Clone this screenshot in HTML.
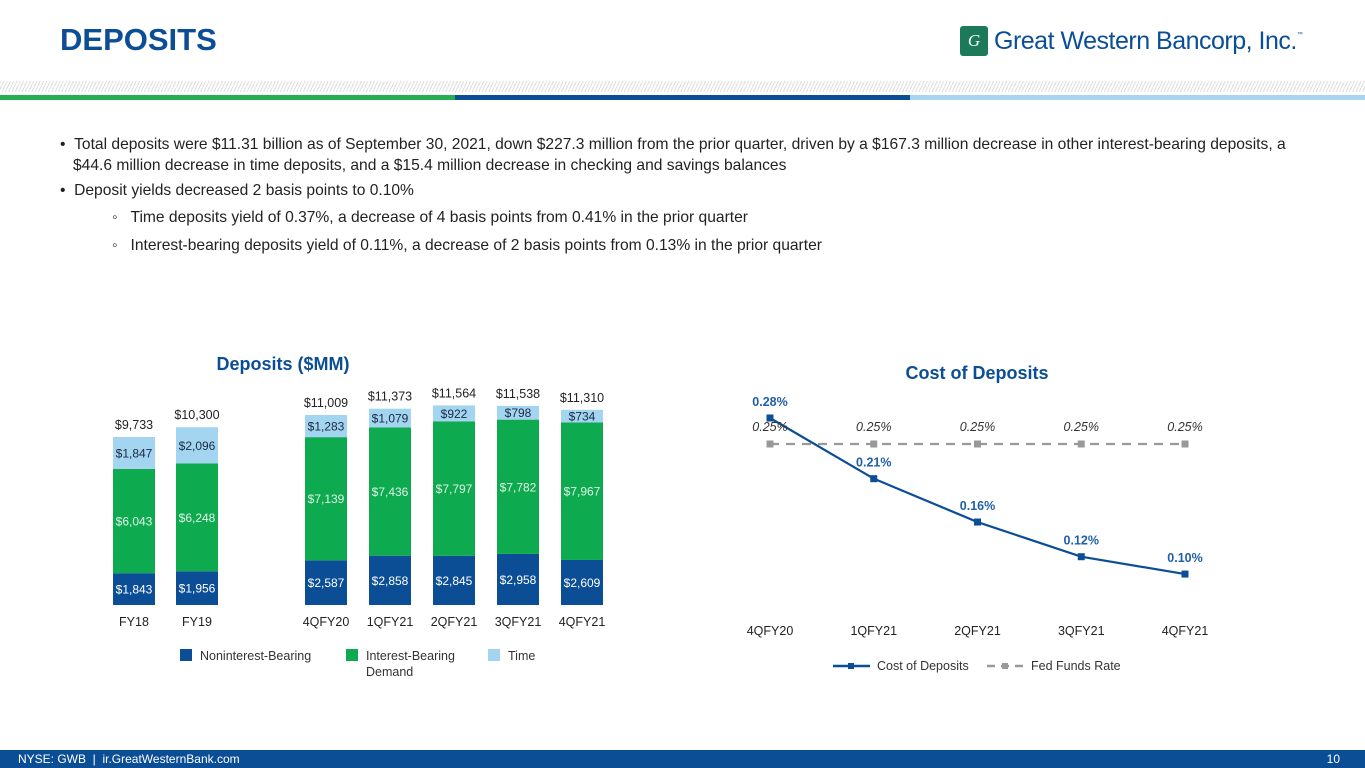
<!DOCTYPE html>
<html><head><meta charset="utf-8">
<style>
body{margin:0;width:1365px;height:768px;position:relative;background:#fff;font-family:"Liberation Sans",sans-serif;overflow:hidden}
.abs{position:absolute}
.title{left:60px;top:22px;font-size:31px;font-weight:bold;color:#0b4e96;letter-spacing:0px}
.bul{font-size:15.6px;color:#222;line-height:21px;white-space:nowrap}
</style></head><body>
<div class="abs title">DEPOSITS</div>
<div class="abs" style="left:960px;top:26px;display:flex;align-items:center">
  <div style="width:28px;height:30px;background:#1c7a5a;border-radius:3px;color:#fff;font-style:italic;font-size:17px;text-align:center;line-height:30px;font-family:'Liberation Serif',serif">G</div>
  <span style="margin-left:6px;font-size:25px;color:#0b4e96;font-family:'Liberation Sans Narrow','Liberation Sans',sans-serif;letter-spacing:-0.5px">Great Western Bancorp, Inc.</span><span style="font-size:6px;color:#0b4e96;margin-top:-12px">™</span>
</div>
<div class="abs" style="left:0;top:81px;width:1365px;height:11px;background:repeating-linear-gradient(115deg,#ddd 0 1px,#fff 1px 3px)"></div>
<div class="abs" style="left:0;top:95px;width:1365px;height:5px;background:linear-gradient(90deg,#27ae53 0 455px,#0b4e96 455px 910px,#a6d4f2 910px)"></div>

<div class="abs bul" style="left:60px;top:134px">• &nbsp;Total deposits were $11.31 billion as of September 30, 2021, down $227.3 million from the prior quarter, driven by a $167.3 million decrease in other interest-bearing deposits, a<br>&nbsp;&nbsp;&nbsp;$44.6 million decrease in time deposits, and a $15.4 million decrease in checking and savings balances</div>
<div class="abs bul" style="left:60px;top:180px">• &nbsp;Deposit yields decreased 2 basis points to 0.10%</div>
<div class="abs bul" style="left:112px;top:207px">◦ &nbsp;&nbsp;Time deposits yield of 0.37%, a decrease of 4 basis points from 0.41% in the prior quarter</div>
<div class="abs bul" style="left:112px;top:235px">◦ &nbsp;&nbsp;Interest-bearing deposits yield of 0.11%, a decrease of 2 basis points from 0.13% in the prior quarter</div>

<svg class="abs" style="left:0;top:0" width="1365" height="768" id="charts">
<text x="283" y="370" text-anchor="middle" font-size="18" font-weight="bold" fill="#0b4e96">Deposits ($MM)</text>
<text x="977" y="379" text-anchor="middle" font-size="18" font-weight="bold" fill="#0b4e96">Cost of Deposits</text>
<g id="bars"></g><g id="lines"></g>
<g font-size="12.5" fill="#333">
<rect x="180" y="649" width="12" height="12" fill="#0b4e96"/><text x="200" y="660">Noninterest-Bearing</text>
<rect x="346" y="649" width="12" height="12" fill="#0eaa50"/><text x="366" y="660">Interest-Bearing</text><text x="366" y="676">Demand</text>
<rect x="488" y="649" width="12" height="12" fill="#a3d4f0"/><text x="508" y="660">Time</text>
</g>
<g font-size="12.5" fill="#333">
<line x1="833" y1="666" x2="870" y2="666" stroke="#0b4e96" stroke-width="2.5"/><rect x="848" y="663" width="6" height="6" fill="#0b4e96"/><text x="877" y="670">Cost of Deposits</text>
<line x1="987" y1="666" x2="1024" y2="666" stroke="#999" stroke-width="2.5" stroke-dasharray="8,6"/><rect x="1002" y="663" width="6" height="6" fill="#999"/><text x="1031" y="670">Fed Funds Rate</text>
</g>
</svg>

<div class="abs" style="left:0;top:750px;width:1365px;height:18px;background:#0b4e96;color:#fff;font-size:12px;line-height:18px">
<span style="margin-left:18px">NYSE: GWB &nbsp;|&nbsp; ir.GreatWesternBank.com</span><span style="position:absolute;right:25px">10</span></div>

<script>
const barCats=["FY18","FY19","4QFY20","1QFY21","2QFY21","3QFY21","4QFY21"];
const nonInterest=[1843,1956,2587,2858,2845,2958,2609];
const interestDemand=[6043,6248,7139,7436,7797,7782,7967];
const timeDep=[1847,2096,1283,1079,922,798,734];
const totals=[9733,10300,11009,11373,11564,11538,11310];
const lineCats=["4QFY20","1QFY21","2QFY21","3QFY21","4QFY21"];
const costDeposits=[0.28,0.21,0.16,0.12,0.10];
const fedFunds=[0.25,0.25,0.25,0.25,0.25];

const NS="http://www.w3.org/2000/svg";
function mk(tag,attrs,parent,txt){const e=document.createElementNS(NS,tag);for(const k in attrs)e.setAttribute(k,attrs[k]);if(txt!==undefined)e.textContent=txt;parent.appendChild(e);return e;}
const fmt=v=>"$"+v.toLocaleString("en-US");
const bx=i=>i<2?134+i*63:326+(i-2)*64;
const byScale=v=>v*0.01726;
const base=605;
const bars=document.getElementById("bars");
barCats.forEach((c,i)=>{
  const x=bx(i)-21;let y=base;
  const segs=[[nonInterest[i],"#0b4e96","#fff","noninterest"],[interestDemand[i],"#0eaa50","#dff5e5","interest-demand"],[timeDep[i],"#a3d4f0","#1a2a44","time"]];
  segs.forEach(s=>{
    const h=byScale(s[0]);y-=h;
    const r=mk("rect",{x:x,y:y,width:42,height:h,fill:s[1]},bars);
    
    
    const t=mk("text",{x:bx(i),y:y+h/2+4.5,"text-anchor":"middle","font-size":"12",fill:s[2]},bars,fmt(s[0]));
    
    
  });
  const tt=mk("text",{x:bx(i),y:base-byScale(totals[i])-8,"text-anchor":"middle","font-size":"12.5",fill:"#222"},bars,fmt(totals[i]));
  
  
  const xl=mk("text",{x:bx(i),y:626,"text-anchor":"middle","font-size":"12.5",fill:"#222"},bars,c);
  
  
});
const lx=i=>770+i*103.75;
const ly=v=>418+(0.28-v)*867;
const lines=document.getElementById("lines");
const fp=fedFunds.map((v,i)=>lx(i)+","+ly(v)).join(" ");
const fl=mk("polyline",{points:fp,fill:"none",stroke:"#999","stroke-width":"2.2","stroke-dasharray":"9,7"},lines);


const cp=costDeposits.map((v,i)=>lx(i)+","+ly(v)).join(" ");
const cl=mk("polyline",{points:cp,fill:"none",stroke:"#0b4e96","stroke-width":"2.2"},lines);


lineCats.forEach((c,i)=>{
  const fm=mk("rect",{x:lx(i)-3.5,y:ly(fedFunds[i])-3.5,width:7,height:7,fill:"#999"},lines);
  
  
  const ft=mk("text",{x:lx(i),y:ly(fedFunds[i])-13,"text-anchor":"middle","font-size":"12.5","font-style":"italic",fill:"#333"},lines,fedFunds[i].toFixed(2)+"%");
  
  
  const cm=mk("rect",{x:lx(i)-3.5,y:ly(costDeposits[i])-3.5,width:7,height:7,fill:"#0b4e96"},lines);
  
  
  const ct=mk("text",{x:lx(i),y:ly(costDeposits[i])-12,"text-anchor":"middle","font-size":"12.5","font-weight":"bold",fill:"#1f5fa8"},lines,costDeposits[i].toFixed(2)+"%");
  
  
  const xl=mk("text",{x:lx(i),y:635,"text-anchor":"middle","font-size":"12.5",fill:"#222"},lines,c);
  
  
});
</script>
</body></html>
